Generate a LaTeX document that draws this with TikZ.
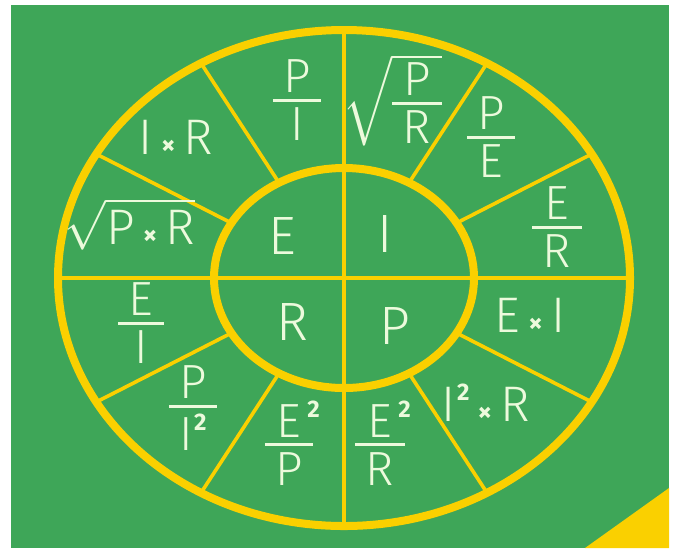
\documentclass[tikz,border=0pt]{standalone}
\usepackage{amsmath}
\usepackage{fontspec}
\newfontfamily\chalk{Fira Sans Light}
\newfontfamily\chalkheavy{Fira Sans}
\definecolor{board}{RGB}{62,166,88}
\definecolor{ring}{RGB}{250,208,0}
\definecolor{chalkwhite}{RGB}{236,250,220}
% fraction with a thick bar, a little wider than its letters
\newcommand{\ovr}[2]{\vcenter{\halign{\hfil##\hfil\cr
  \kern.22em#1\kern.22em\cr
  \noalign{\kern3pt\hrule height1.5pt\kern3pt}
  \kern.22em#2\kern.22em\cr}}}
\newcommand{\tms}{\,{\chalkheavy\bfseries\fontsize{14}{14}\selectfont ×}\,}
\newcommand{\two}{\raisebox{.42em}{\chalkheavy\bfseries\fontsize{12}{12}\selectfont 2}}
\newcommand{\sq}{\kern.5pt\two}
\newcommand{\sqhang}{\rlap{\kern3pt\two}}
\tikzset{
  lbl/.style={text=chalkwhite, font=\chalk\fontsize{24}{27}\selectfont, inner sep=0pt},
  mid/.style={lbl, font=\chalk\fontsize{25}{28}\selectfont},
  big/.style={lbl, font=\chalk\fontsize{27}{30}\selectfont},
  spoke/.style={ring, line width=1.8pt},
  cross/.style={ring, line width=2.4pt},
  rim/.style={ring, line width=4pt},
}
\begin{document}
\begin{tikzpicture}[x=0.5pt, y=-0.5pt]
  \useasboundingbox (0,0) rectangle (673,548);
  \fill[board] (11,5) rectangle (669,548);
  \fill[ring] (585,548) -- (669,488) -- (669,548) -- cycle;
  % the wheel
  \begin{scope}[shift={(344,278)}]
    \foreach \a in {30,60,120,150,210,240,300,330}
      \draw[spoke] (\a:130 and 110) -- (\a:286 and 248);
    \draw[cross] (0,-248) -- (0,248) (-286,0) -- (286,0);
    \draw[rim] (0,0) ellipse (130 and 110);
    \draw[rim] (0,0) ellipse (286 and 248);
  \end{scope}
  % hub
  \node[big] (e) at (282,236) {E};
  \node[big] (i) at (385,234) {I};
  \node[big] (r) at (292,322) {R};
  \node[big] (p) at (395,326) {P};
  % rim formulas
  \node[lbl] (pi) at (297,100) {$\ovr{P}{I}$};
  \node[mid] (ixr) at (176,137) {I\tms R};
  \node[mid] (rootpr) at (130,224) {$\sqrt{\hbox{P\tms R}}$};
  \node[lbl] (rootpovr) at (392,100) {$\sqrt{\ovr{P}{R}}$};
  \node[lbl] (pe) at (491,137) {$\ovr{P}{E}$};
  \node[lbl] (er) at (557,227) {$\ovr{E}{R}$};
  \node[mid] (exi) at (530,315) {E\tms I};
  \node[mid] (isqr) at (486,403) {I\sq\tms R};
  \node[lbl] (esqr) at (380,443) {$\ovr{E\sqhang}{R}$};
  \node[lbl] (esqp) at (289,443) {$\ovr{E\sqhang}{P}$};
  \node[lbl] (pisq) at (193,408) {$\ovr{P}{I\sq}$};
  \node[lbl] (ei) at (141,323) {$\ovr{E}{I}$};
\end{tikzpicture}
\end{document}
